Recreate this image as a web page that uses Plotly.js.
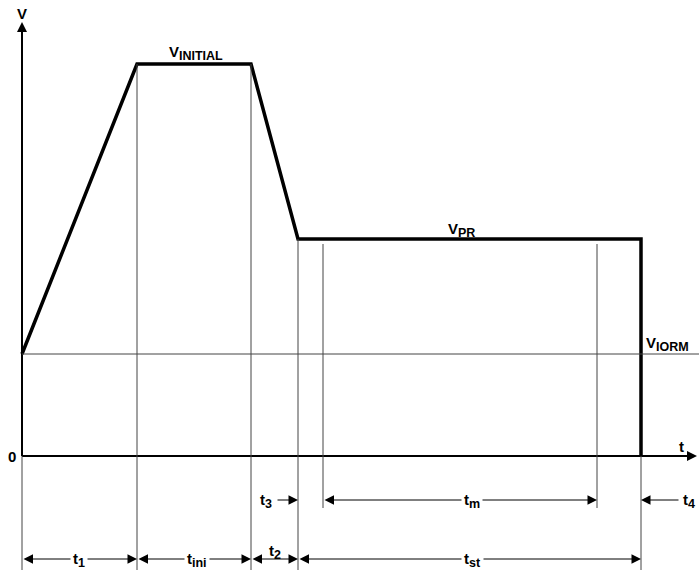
<!DOCTYPE html>
<html><head><meta charset="utf-8">
<script src="https://cdn.plot.ly/plotly-3.0.1.min.js"></script>
<style>html,body{margin:0;padding:0;background:#fff}</style>
</head><body><div id="chart" style="width:699px;height:570px"></div>
<script>
// Waveform breakpoints
const waveT = [0, 115, 229, 276, 619, 619];
const waveV = [102, 392, 392, 217, 217, 0];
const vIorm = 102;
const tmStart = 301;
const tmEnd = 575;
const tAxisEnd = 675;
const vAxisEnd = 434;
const levelSubs = ['INITIAL', 'PR', 'IORM'];
const intervalSubs = ['1', 'ini', '2', 'st', '3', 'm', '4'];

const sub = (base, s) => base + '<sub><span style="font-size:12.5px">' + s + '</span></sub>';
const row1 = -44, row2 = -103, vBottom = -114, tRight = 677;
const font = {family: 'Liberation Sans, Arial, sans-serif', size: 15, color: '#000', weight: 'bold'};
const guide = {color: '#444', width: 1};

const shapes = [];
function seg(x0, y0, x1, y1, line) { shapes.push({type: 'line', xref: 'x', yref: 'y', x0, y0, x1, y1, line}); }
// axes
seg(0, 0, tAxisEnd - 6, 0, {color: '#000', width: 2});
seg(0, 0, 0, vAxisEnd - 6, {color: '#000', width: 2});
seg(0, vBottom, 0, 0, guide);
// V_IORM level
seg(0, vIorm, tRight, vIorm, guide);
// guide verticals
seg(waveT[1], waveV[1], waveT[1], vBottom, guide);
seg(waveT[2], waveV[2], waveT[2], vBottom, guide);
seg(waveT[3], waveV[3], waveT[3], vBottom, guide);
seg(tmStart, waveV[3] - 5, tmStart, row1 - 8, guide);
seg(tmEnd, waveV[4] - 5, tmEnd, row1 - 8, guide);
seg(waveT[4], 0, waveT[4], vBottom, guide);

const annotations = [];
function arrow(xHead, yHead, xTail, yTail, both, w, size) {
  annotations.push({x: xHead, y: yHead, ax: xTail, ay: yTail, xref: 'x', yref: 'y', axref: 'x', ayref: 'y',
    text: '', showarrow: true, arrowhead: 2, arrowsize: size || 1.9, arrowwidth: w || 1, arrowcolor: '#000',
    arrowside: both ? 'end+start' : 'end', standoff: 0, startstandoff: 0});
}
function label(x, y, text, bg) {
  annotations.push({x, y, xref: 'x', yref: 'y', text, showarrow: false, font,
    bgcolor: bg ? '#fff' : 'rgba(0,0,0,0)', borderpad: 2});
}
// axis arrowheads
arrow(tAxisEnd, 0, tAxisEnd - 8, 0, false, 1, 2);
arrow(0, vAxisEnd, 0, vAxisEnd - 8, false, 1, 2);
// dimension arrows
arrow(waveT[1], row2, 0, row2, true);
arrow(waveT[2], row2, waveT[1], row2, true);
arrow(waveT[3], row2, waveT[2], row2, true);
arrow(waveT[4], row2, waveT[3], row2, true);
arrow(waveT[3], row1, waveT[3] - 22, row1, false);
arrow(tmEnd, row1, tmStart, row1, true);
arrow(waveT[4], row1, waveT[4] + 39, row1, false);

// labels
label(0, 443, 'V');
label(-10, 0, '0');
label(659, 10, 't');
label(174, 403, sub('V', levelSubs[0]));
label(439, 226, sub('V', levelSubs[1]));
label(645, 112, sub('V', levelSubs[2]));
label(57, row2 - 1, sub('t', intervalSubs[0]), true);
label(175, row2 - 1, sub('t', intervalSubs[1]), true);
label(253, row2 + 7, sub('t', intervalSubs[2]));
label(450, row2 - 1, sub('t', intervalSubs[3]), true);
label(244, row1 - 1, sub('t', intervalSubs[4]));
label(450, row1 - 1, sub('t', intervalSubs[5]), true);
label(667, row1 - 1, sub('t', intervalSubs[6]));

const data = [{x: waveT, y: waveV, type: 'scatter', mode: 'lines',
  line: {color: '#000', width: 3.5}, cliponaxis: false, hoverinfo: 'skip'}];

const layout = {
  width: 699, height: 570, margin: {l: 0, r: 0, t: 0, b: 0},
  paper_bgcolor: '#fff', plot_bgcolor: '#fff', showlegend: false,
  xaxis: {range: [-22, 677], visible: false, fixedrange: true},
  yaxis: {range: [vBottom, 456], visible: false, fixedrange: true},
  shapes, annotations
};
Plotly.newPlot('chart', data, layout, {staticPlot: true, displayModeBar: false});
</script></body></html>
